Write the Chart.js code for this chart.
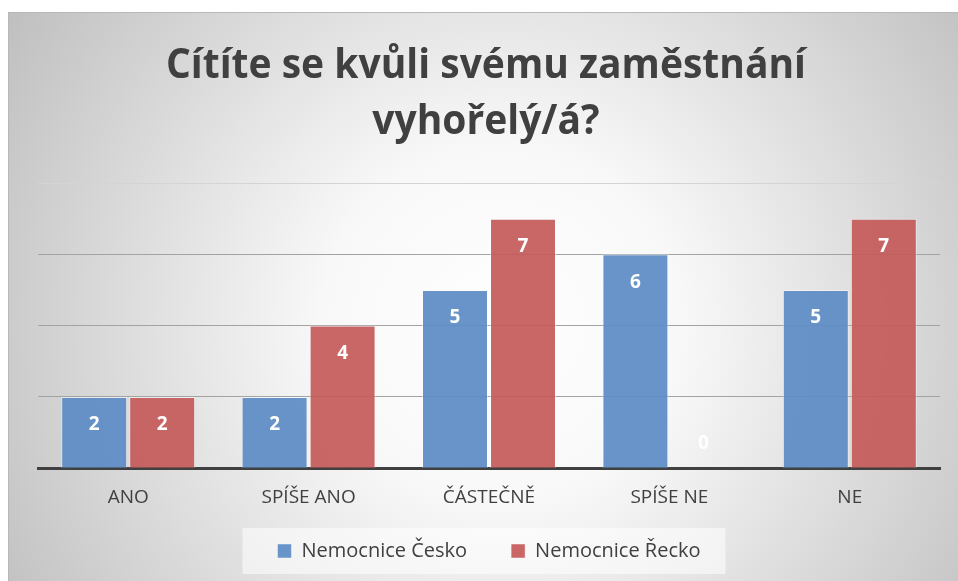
<!DOCTYPE html>
<html>
<head>
<meta charset="utf-8">
<script src="https://cdn.jsdelivr.net/npm/chart.js@4.4.1/dist/chart.umd.min.js"></script>
<style>
  html, body { margin: 0; padding: 0; background: #fff; }
  #wrap { position: absolute; left: 8px; top: 12px; width: 950px; height: 569px; }
</style>
</head>
<body>
<div id="wrap"><canvas id="burnout_chart" width="950" height="569"></canvas></div>
<script>
const categories = ['ANO', 'SPÍŠE ANO', 'ČÁSTEČNĚ', 'SPÍŠE NE', 'NE'];
const czechValues = [2, 2, 5, 6, 5];
const greekValues = [2, 4, 7, 0, 7];
const seriesNames = ['Nemocnice Česko', 'Nemocnice Řecko'];
const titleLines = ['Cítíte se kvůli svému zaměstnání', 'vyhořelý/á?'];
const yTicks = [0, 2, 4, 6, 8];

const textColor = '#404040';

// background gradient, border, title and the pale box behind the legend
const backdrop = {
    id: 'backdrop',
    beforeDraw(chart) {
        const ctx = chart.ctx;
        const w = chart.width, h = chart.height;
        ctx.save();
        const g = ctx.createRadialGradient(w * 0.52, h * 0.55, 0, w * 0.52, h * 0.55, 600);
        g.addColorStop(0, '#ffffff');
        g.addColorStop(0.3, '#f8f8f8');
        g.addColorStop(1, '#bdbdbd');
        ctx.fillStyle = g;
        ctx.fillRect(0, 0, w, h);
        ctx.strokeStyle = '#b8b8b8';
        ctx.lineWidth = 1;
        ctx.strokeRect(0.5, 0.5, w + 2, h + 2);

        // title
        ctx.fillStyle = textColor;
        ctx.font = 'bold 41px "Open Sans"';
        ctx.textAlign = 'center';
        ctx.textBaseline = 'alphabetic';
        const sx = 640 / ctx.measureText(titleLines[0]).width;
        ctx.translate(478, 0);
        ctx.scale(sx, 1);
        ctx.fillText(titleLines[0], 0, 66);
        ctx.fillText(titleLines[1], 0, 122);
        ctx.restore();

        // legend box
        const boxes = chart.legend.legendHitBoxes;
        if (boxes && boxes.length) {
            let l = Infinity, r = -Infinity, t = Infinity, b = -Infinity;
            boxes.forEach(bx => {
                l = Math.min(l, bx.left); r = Math.max(r, bx.left + bx.width);
                t = Math.min(t, bx.top); b = Math.max(b, bx.top + bx.height);
            });
            ctx.save();
            ctx.fillStyle = 'rgba(255,255,255,0.55)';
            ctx.fillRect(l - 35, (t + b) / 2 - 23, r - l + 60, 46);
            ctx.restore();
        }
    }
};

const valueLabels = {
    id: 'valueLabels',
    afterDatasetsDraw(chart) {
        const ctx = chart.ctx;
        ctx.save();
        ctx.fillStyle = '#ffffff';
        ctx.font = 'bold 19px "Open Sans"';
        ctx.textAlign = 'center';
        ctx.textBaseline = 'middle';
        chart.data.datasets.forEach((ds, di) => {
            chart.getDatasetMeta(di).data.forEach((bar, i) => {
                const v = ds.data[i];
                const y = v > 0 ? bar.y + 28 : bar.base - 25;
                ctx.fillText(String(v), bar.x, y);
            });
        });
        ctx.restore();
    }
};

const data = {
    labels: categories,
    datasets: [{
        label: seriesNames[0],
        data: czechValues,
        backgroundColor: 'rgba(92,140,197,0.93)',
        borderColor: 'rgba(255,255,255,0.45)',
        borderWidth: 1,
        categoryPercentage: 0.754,
        barPercentage: 0.97
    }, {
        label: seriesNames[1],
        data: greekValues,
        backgroundColor: 'rgba(196,90,90,0.92)',
        borderColor: 'rgba(255,255,255,0.45)',
        borderWidth: 1,
        categoryPercentage: 0.754,
        barPercentage: 0.97
    }]
};

const config = {
    type: 'bar',
    data: data,
    options: {
        responsive: false,
        animation: false,
        layout: { padding: { left: 30, right: 18, top: 171, bottom: 10 } },
        scales: {
            y: {
                min: yTicks[0],
                max: yTicks[yTicks.length - 1],
                afterBuildTicks: axis => { axis.ticks = yTicks.map(v => ({ value: v })); },
                ticks: { display: false },
                border: { display: false },
                grid: {
                    drawTicks: false,
                    lineWidth: 1,
                    color: c => c.tick && c.tick.value === 8 ? '#d4d4d4' : '#a3a3a3'
                }
            },
            x: {
                grid: { display: false, drawTicks: false },
                border: { display: true, color: '#404040', width: 3 },
                ticks: {
                    color: textColor,
                    font: { family: 'Open Sans', size: 19 },
                    padding: 18
                }
            }
        },
        plugins: {
            title: { display: false },
            tooltip: { enabled: false },
            legend: {
                position: 'bottom',
                labels: {
                    color: textColor,
                    font: { family: 'Open Sans', size: 20 },
                    boxWidth: 14,
                    boxHeight: 14,
                    padding: 14,
                    // widen the gap between the two entries
                    generateLabels: chart => {
                        const items = Chart.defaults.plugins.legend.labels.generateLabels(chart);
                        items.forEach((it, i) => { if (i < items.length - 1) it.text += '\u2002\u2002\u2002'; });
                        return items;
                    }
                }
            }
        }
    },
    plugins: [backdrop, valueLabels]
};

new Chart(document.getElementById('burnout_chart'), config);
</script>
</body>
</html>
